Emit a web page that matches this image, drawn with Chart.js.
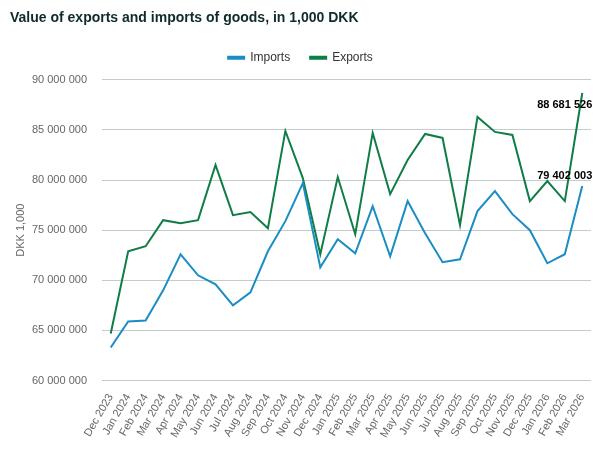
<!DOCTYPE html>
<html>
<head>
<meta charset="utf-8">
<script src="https://cdn.jsdelivr.net/npm/chart.js@4.4.1/dist/chart.umd.min.js"></script>
<style>
  html, body { margin: 0; padding: 0; background: #fff; }
  #wrap { width: 600px; height: 450px; }
</style>
</head>
<body>
<div id="wrap"><canvas id="grafico" width="600" height="450"></canvas></div>
<script>
// Meses (categorias del eje x)
const meses = ["Dec 2023", "Jan 2024", "Feb 2024", "Mar 2024", "Apr 2024", "May 2024", "Jun 2024",
  "Jul 2024", "Aug 2024", "Sep 2024", "Oct 2024", "Nov 2024", "Dec 2024", "Jan 2025", "Feb 2025",
  "Mar 2025", "Apr 2025", "May 2025", "Jun 2025", "Jul 2025", "Aug 2025", "Sep 2025", "Oct 2025",
  "Nov 2025", "Dec 2025", "Jan 2026", "Feb 2026", "Mar 2026"];

// Valores en 1,000 DKK
const importaciones = [63300000, 65900000, 66000000, 69000000, 72600000, 70500000, 69600000,
  67500000, 68800000, 72900000, 75900000, 79700000, 71300000, 74100000, 72700000,
  77400000, 72400000, 77900000, 74700000, 71800000, 72100000, 76900000, 78900000,
  76600000, 75000000, 71700000, 72600000, 79402003];
const exportaciones = [64700000, 72900000, 73400000, 76000000, 75700000, 76000000, 81500000,
  76500000, 76800000, 75200000, 84900000, 80200000, 72600000, 80300000, 74600000,
  84700000, 78600000, 82000000, 84600000, 84200000, 75500000, 86300000, 84800000,
  84500000, 77900000, 79900000, 77900000, 88681526];

// Ticks del eje y
const yMin = 60000000;
const yMax = 90000000;
const yPaso = 5000000;

function formatoMiles(v) {
  return Math.round(v).toString().replace(/\B(?=(\d{3})+(?!\d))/g, " ");
}

// Etiquetas del ultimo punto
const etiquetaFinal = {
  id: 'etiquetaFinal',
  afterDatasetsDraw(chart) {
    const ctx = chart.ctx;
    const x = chart.scales.x;
    const y = chart.scales.y;
    const ultimo = meses.length - 1;
    const right = x.getPixelForValue(ultimo) + 10;
    ctx.save();
    ctx.font = "bold 11px 'Liberation Sans', Arial, sans-serif";
    ctx.fillStyle = '#000';
    ctx.textAlign = 'right';
    ctx.textBaseline = 'middle';
    // exportaciones: debajo del punto
    ctx.fillText(formatoMiles(exportaciones[ultimo]), right, y.getPixelForValue(exportaciones[ultimo]) + 12);
    // importaciones: encima del punto
    ctx.fillText(formatoMiles(importaciones[ultimo]), right, y.getPixelForValue(importaciones[ultimo]) - 10);
    ctx.restore();
  }
};

// Espacio extra debajo de la leyenda
const espacioLeyenda = {
  id: 'espacioLeyenda',
  beforeInit(chart) {
    const fitOriginal = chart.legend.fit;
    chart.legend.fit = function () {
      fitOriginal.bind(chart.legend)();
      this.height += 6;
    };
  }
};

Chart.defaults.font.family = "'Liberation Sans', Arial, sans-serif";
Chart.defaults.color = '#666';

new Chart(document.getElementById('grafico'), {
  type: 'line',
  data: {
    labels: meses,
    datasets: [
      { label: 'Imports', data: importaciones, borderColor: '#1a8dc4', backgroundColor: '#1a8dc4',
        borderWidth: 2, pointRadius: 0, tension: 0 },
      { label: 'Exports', data: exportaciones, borderColor: '#0f7d45', backgroundColor: '#0f7d45',
        borderWidth: 2, pointRadius: 0, tension: 0 }
    ]
  },
  options: {
    responsive: false,
    animation: false,
    layout: { padding: { left: 10, right: 9, top: 0, bottom: 7 } },
    plugins: {
      title: {
        display: true,
        text: 'Value of exports and imports of goods, in 1,000 DKK',
        align: 'start',
        color: '#0f2a2a',
        font: { size: 14, weight: 'bold' },
        padding: { top: 10, bottom: 5 }
      },
      legend: {
        position: 'top',
        labels: { boxWidth: 16, boxHeight: 2, color: '#333', font: { size: 12 }, padding: 20 }
      },
      tooltip: { enabled: false }
    },
    scales: {
      x: {
        offset: true,
        grid: { display: false },
        border: { display: false },
        ticks: { minRotation: 60, maxRotation: 60, autoSkip: false, color: '#666', font: { size: 11 } }
      },
      y: {
        min: yMin,
        max: yMax,
        grid: { color: '#c3cbcb', drawTicks: false },
        border: { display: false },
        title: { display: true, text: 'DKK 1,000', color: '#666', font: { size: 11 } },
        ticks: { stepSize: yPaso, color: '#666', font: { size: 11 }, padding: 15,
          callback: v => formatoMiles(v) },
        afterFit: s => { s.width = 92; }  // ancho fijo del eje y
      }
    }
  },
  plugins: [etiquetaFinal, espacioLeyenda]
});
</script>
</body>
</html>
